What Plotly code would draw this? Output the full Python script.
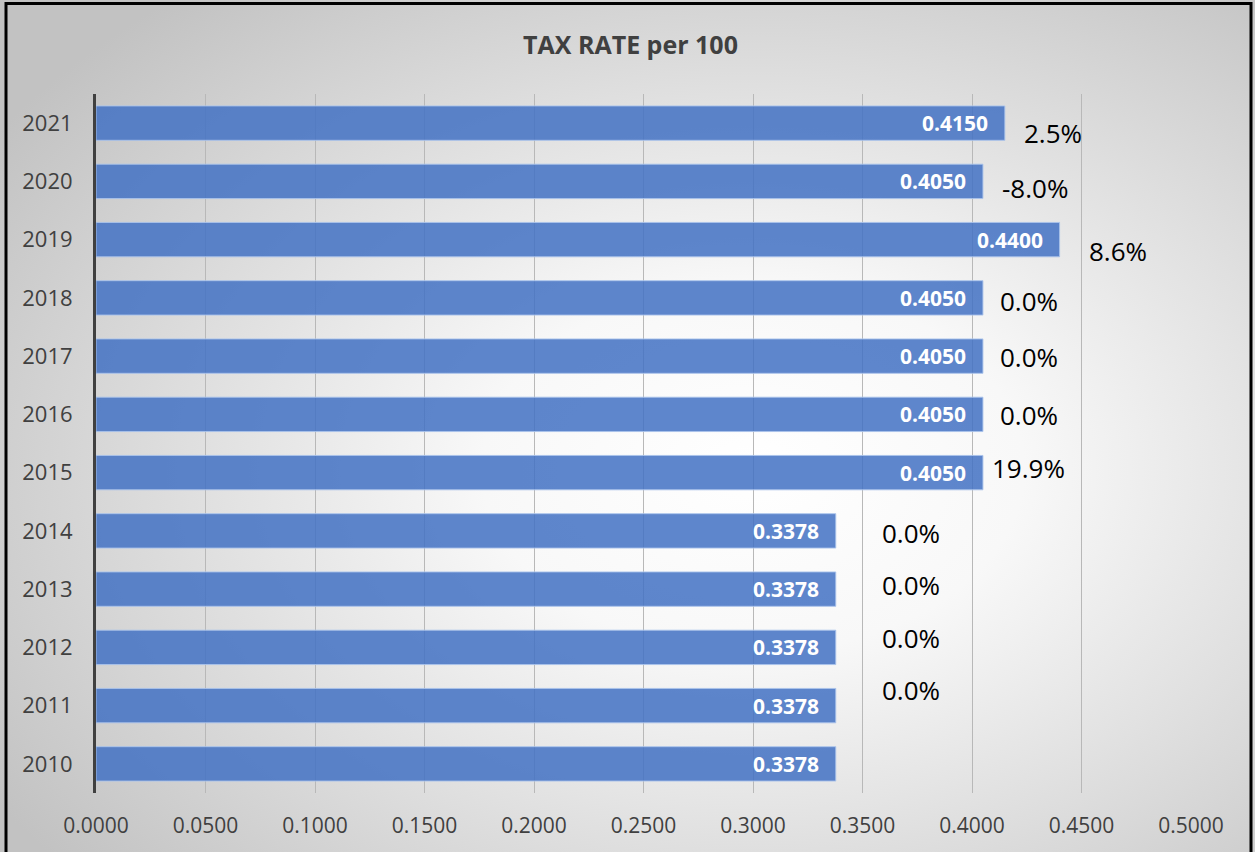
import base64
import plotly.graph_objects as go

# ---- data ----
years = ["2010", "2011", "2012", "2013", "2014", "2015",
         "2016", "2017", "2018", "2019", "2020", "2021"]
rates = [0.3378, 0.3378, 0.3378, 0.3378, 0.3378, 0.4050,
         0.4050, 0.4050, 0.4050, 0.4400, 0.4050, 0.4150]
rate_labels = ["0.3378", "0.3378", "0.3378", "0.3378", "0.3378", "0.4050",
               "0.4050", "0.4050", "0.4050", "0.4400", "0.4050", "0.4150"]
pct_labels = ["", "0.0%", "0.0%", "0.0%", "0.0%", "19.9%",
              "0.0%", "0.0%", "0.0%", "8.6%", "-8.0%", "2.5%"]
x_ticks = [0.0, 0.05, 0.10, 0.15, 0.20, 0.25, 0.30, 0.35, 0.40, 0.45, 0.50]
x_tick_text = ["0.0000", "0.0500", "0.1000", "0.1500", "0.2000", "0.2500",
               "0.3000", "0.3500", "0.4000", "0.4500", "0.5000"]

# ---- style (pixel offsets of the free-floating % labels; dy>0 = lower) ----
pct_dx = [0, 44, 44, 44, 44, 7, 15, 15, 15, 27, 17, 17]
pct_dy = [0, -16, -9, -4, 2, -5, 1, 1, 3, 11, 7, 10]

W, H = 1255, 852
ML, MR, MT, MB = 96, 64, 94, 59
PW, PH = W - ML - MR, H - MT - MB

FONT = "Open Sans, Noto Sans, sans-serif"

svg = f'''<svg xmlns="http://www.w3.org/2000/svg" width="{W}" height="{H}" viewBox="0 0 {W} {H}" preserveAspectRatio="none">
<defs><radialGradient id="g" cx="0.6" cy="0.55" r="0.72">
<stop offset="0" stop-color="#ffffff"/><stop offset="0.3" stop-color="#f8f8f8"/>
<stop offset="1" stop-color="#c2c2c2"/></radialGradient></defs>
<rect x="0" y="0" width="{W}" height="{H}" fill="url(#g)"/>
<rect x="6" y="3.5" width="1245" height="870" fill="none" stroke="#000" stroke-width="3"/>
</svg>'''
svg_uri = "data:image/svg+xml;base64," + base64.b64encode(svg.encode()).decode()

fig = go.Figure()
fig.add_trace(go.Bar(
    x=rates, y=years, orientation="h",
    marker=dict(color="rgba(68,114,196,0.86)",
                line=dict(color="rgba(170,195,235,0.9)", width=1)),
    hoverinfo="x+y",
))

annotations = []
for i, (v, t) in enumerate(zip(rates, rate_labels)):
    annotations.append(dict(
        x=v, y=i, xref="x", yref="y", text=f"<b>{t}</b>", showarrow=False,
        xanchor="right", yanchor="middle", xshift=-15,
        font=dict(family=FONT, size=21, color="white")))
for i, (v, t, dx, dy) in enumerate(zip(rates, pct_labels, pct_dx, pct_dy)):
    if not t:
        continue
    annotations.append(dict(
        x=v, y=i, xref="x", yref="y", text=t, showarrow=False,
        xanchor="left", yanchor="middle", xshift=dx, yshift=-dy,
        font=dict(family=FONT, size=26, color="#000000")))
annotations.append(dict(
    x=(630 - ML) / PW, y=1 + (MT - 44) / PH, xref="paper", yref="paper",
    text="<b>TAX RATE per 100</b>",
    showarrow=False, xanchor="center", yanchor="middle",
    font=dict(family=FONT, size=25, color="#404040")))

fig.update_layout(
    width=W, height=H,
    margin=dict(l=ML, r=MR, t=MT, b=MB, pad=0),
    paper_bgcolor="white",
    plot_bgcolor="rgba(0,0,0,0)",
    showlegend=False,
    bargap=0.41,
    annotations=annotations,
    images=[dict(source=svg_uri, xref="paper", yref="paper",
                 x=-ML / PW, y=1 + MT / PH, sizex=W / PW, sizey=H / PH,
                 xanchor="left", yanchor="top", sizing="stretch", layer="below")],
    xaxis=dict(range=[0, 0.5], tickvals=x_ticks, ticktext=x_tick_text,
               showgrid=True, gridcolor="#b8b8b8", gridwidth=1,
               zeroline=False, showline=False, ticks="",
               ticklabelstandoff=18,
               tickfont=dict(family=FONT, size=21, color="#404040")),
    yaxis=dict(type="category", categoryarray=years, categoryorder="array",
               range=[-0.5, len(years) - 0.5],
               showgrid=False, zeroline=False,
               showline=True, linecolor="#404040", linewidth=3,
               ticks="", ticklabelstandoff=16,
               tickfont=dict(family=FONT, size=22, color="#404040")),
)

fig.write_html("out.html", config={"displayModeBar": False},
               post_script="document.body.style.margin='0';")
